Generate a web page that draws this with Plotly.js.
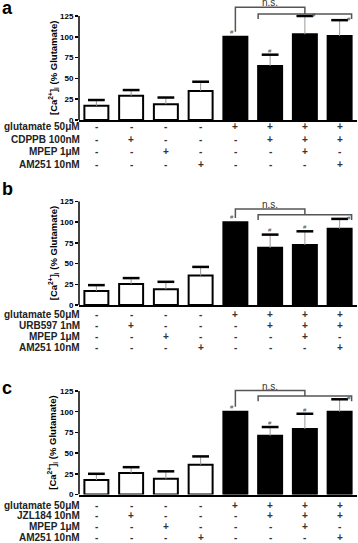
<!DOCTYPE html>
<html><head><meta charset="utf-8">
<script src="https://cdn.plot.ly/plotly-3.0.1.min.js"></script>
<style>html,body{margin:0;padding:0;background:#fff}#chart{width:358px;height:543px}</style>
</head><body><div id="chart"></div>
<script>
// ---- data ----
const conditions = [0, 1, 2, 3, 4, 5, 6, 7];
const glutamateRow = ['-', '-', '-', '-', '+', '+', '+', '+'];
const drugRow      = ['-', '+', '-', '-', '-', '+', '+', '+'];
const mpepRow      = ['-', '-', '+', '-', '-', '-', '+', '-'];
const am251Row     = ['-', '-', '-', '+', '-', '-', '-', '+'];

const rowLabelsA = ['glutamate 50\u03bcM', 'CDPPB 100nM', 'MPEP 1\u03bcM', 'AM251 10nM'];
const rowLabelsB = ['glutamate 50\u03bcM', 'URB597 1nM', 'MPEP 1\u03bcM', 'AM251 10nM'];
const rowLabelsC = ['glutamate 50\u03bcM', 'JZL184 10nM', 'MPEP 1\u03bcM', 'AM251 10nM'];

const meansA = [17, 29, 19, 35, 100, 65, 103, 101];
const errsA  = [7, 7, 8, 11, 0, 13.5, 22, 19];
const meansB = [17, 25.5, 19, 35.5, 100, 69, 72.5, 92];
const errsB  = [7, 7, 9, 10.5, 0, 16, 16.5, 12];
const meansC = [17.5, 26, 19, 36, 100, 71, 79, 100];
const errsC  = [7.5, 7, 9, 10, 0, 10.5, 18.5, 15];

const tickValues = [0, 25, 50, 75, 100, 125];
const yTitle = '[Ca<sup>2+</sup>]<sub>i</sub> (% Glutamate)';
const sigText = 'n.s.';
const markText = '#';

// ---- layout helpers ----
const W = 358, H = 543;
const FONT = 'Liberation Sans, Arial, sans-serif';
const plotLeft = 79, plotRight = 357;
const YMAX = 140;
const BARW = 0.69;

const panels = [
  {letter: 'a', means: meansA, errs: errsA, labels: rowLabelsA, zeroPx: 120, topTickPx: 16,
   rowPx: [127, 139.5, 152, 164.5], letterPx: 8,
   br: {leg: 106, upper: 135.5, lower: 127.4, tick: 121.4},
   sym: [null, null, null, null, 'top', 'above', 'right', 'right']},
  {letter: 'b', means: meansB, errs: errsB, labels: rowLabelsB, zeroPx: 305, topTickPx: 201.5,
   rowPx: [314, 325.5, 336.5, 347.5], letterPx: 189,
   br: {leg: 105, upper: 116, lower: 109, tick: 102.6},
   sym: [null, null, null, null, 'top', 'above', 'above', 'right']},
  {letter: 'c', means: meansC, errs: errsC, labels: rowLabelsC, zeroPx: 494.5, topTickPx: 391,
   rowPx: [505, 515.7, 526.5, 537.3], letterPx: 388,
   br: {leg: 106, upper: 125.5, lower: 119, tick: 112.6},
   sym: [null, null, null, null, 'top', 'above', 'above', 'right']}
];

const rows = [glutamateRow, drugRow, mpepRow, am251Row];
const data = [];
const shapes = [];
const annotations = [];
const layout = {
  width: W, height: H, margin: {l: 0, r: 0, t: 0, b: 0},
  paper_bgcolor: '#fff', plot_bgcolor: 'rgba(0,0,0,0)',
  showlegend: false, font: {family: FONT, color: '#000'},
  bargap: 0
};

function ann(o) {
  return Object.assign({showarrow: false, xanchor: 'center', yanchor: 'middle'}, o);
}

panels.forEach((p, k) => {
  const s = k === 0 ? '' : String(k + 1);
  const xa = 'x' + s, ya = 'y' + s;
  const topPx = p.zeroPx - (p.zeroPx - p.topTickPx) * YMAX / 125;
  layout['xaxis' + s] = {
    domain: [plotLeft / W, plotRight / W], anchor: ya, range: [-0.5, 7.5],
    showline: true, linecolor: '#000', linewidth: 2, ticks: '', showticklabels: false,
    showgrid: false, zeroline: false, fixedrange: true
  };
  layout['yaxis' + s] = {
    domain: [1 - p.zeroPx / H, 1 - topPx / H], anchor: xa, range: [0, YMAX],
    showline: false, tickvals: tickValues, ticks: 'outside', ticklen: 3, tickwidth: 1.5,
    tickcolor: '#000', tickfont: {family: FONT, size: 8, color: '#000', weight: 'bold'},
    showgrid: false, zeroline: false, fixedrange: true
  };
  // bars
  data.push({
    type: 'bar', x: conditions, y: p.means, xaxis: xa, yaxis: ya, width: BARW,
    marker: {color: glutamateRow.map(g => g === '+' ? '#000' : '#fff'), line: {color: '#000', width: 2}},
    error_y: {type: 'data', symmetric: false, array: p.errs, arrayminus: p.errs.map(() => 0),
              color: '#9a9a9a', thickness: 1, width: 0},
    cliponaxis: false, hoverinfo: 'skip'
  });
  // error caps
  const capX = [], capY = [];
  conditions.forEach((c, i) => { if (p.errs[i] > 0) { capX.push(c); capY.push(p.means[i] + p.errs[i]); } });
  data.push({
    type: 'scatter', mode: 'markers', x: capX, y: capY, xaxis: xa, yaxis: ya,
    marker: {symbol: 'line-ew', size: 12, line: {color: '#000', width: 2.5}},
    cliponaxis: false, hoverinfo: 'skip'
  });
  // y axis line
  shapes.push({type: 'line', xref: 'paper', yref: ya, x0: plotLeft / W, x1: plotLeft / W, y0: 0, y1: 125,
               line: {color: '#000', width: 1.5}});
  // brackets
  const b = p.br;
  const lx0 = conditions[5] - BARW / 2, lx1 = conditions[7] + BARW / 2;
  shapes.push({type: 'path', xref: xa, yref: ya,
    path: `M ${conditions[4]},${b.leg} L ${conditions[4]},${b.upper} L ${conditions[6]},${b.upper} L ${conditions[6]},${b.lower}`,
    line: {color: '#555', width: 1.5}});
  shapes.push({type: 'path', xref: xa, yref: ya,
    path: `M ${lx0},${b.tick} L ${lx0},${b.lower} L ${lx1},${b.lower} L ${lx1},${b.tick}`,
    line: {color: '#555', width: 1.5}});
  annotations.push(ann({xref: xa, yref: ya, x: conditions[5], y: b.upper, yanchor: 'bottom', yshift: -3,
    text: sigText, font: {family: FONT, size: 10, color: '#333'}}));
  // significance marks
  p.sym.forEach((m, i) => {
    if (!m) return;
    let y, xs = 0;
    if (m === 'top') { y = p.means[i] + 6; xs = -3; }
    else if (m === 'above') { y = p.means[i] + p.errs[i] + 5; }
    else { y = p.means[i] + p.errs[i] + 1; xs = 9; }
    annotations.push(ann({xref: xa, yref: ya, x: conditions[i], y: y, xshift: xs, text: markText,
      font: {family: FONT, size: 6, color: '#444'}}));
  });
  // panel letter
  annotations.push(ann({xref: 'paper', yref: 'paper', x: 7 / W, y: 1 - p.letterPx / H, text: p.letter,
    font: {family: FONT, size: 18, color: '#000', weight: 'bold'}}));
  // y title
  annotations.push(ann({xref: 'paper', yref: 'paper', x: 53 / W, y: 1 - ((p.zeroPx + p.topTickPx) / 2) / H,
    text: yTitle, textangle: -90,
    font: {family: FONT, size: 9.5, color: '#000', weight: 'bold'}}));
  // treatment table
  rows.forEach((row, r) => {
    const yy = 1 - p.rowPx[r] / H;
    annotations.push(ann({xref: 'paper', yref: 'paper', x: 82 / W, y: yy, xanchor: 'right', text: p.labels[r],
      font: {family: FONT, size: 10, color: '#222', weight: 'bold'}}));
    row.forEach((sgn, i) => {
      annotations.push(ann({xref: xa, yref: 'paper', x: conditions[i], y: yy, text: sgn,
        font: {family: FONT, size: 10, color: '#333', weight: 'bold'}}));
    });
  });
});

layout.shapes = shapes;
layout.annotations = annotations;
Plotly.newPlot('chart', data, layout, {staticPlot: true, displayModeBar: false});
</script>
</body></html>
